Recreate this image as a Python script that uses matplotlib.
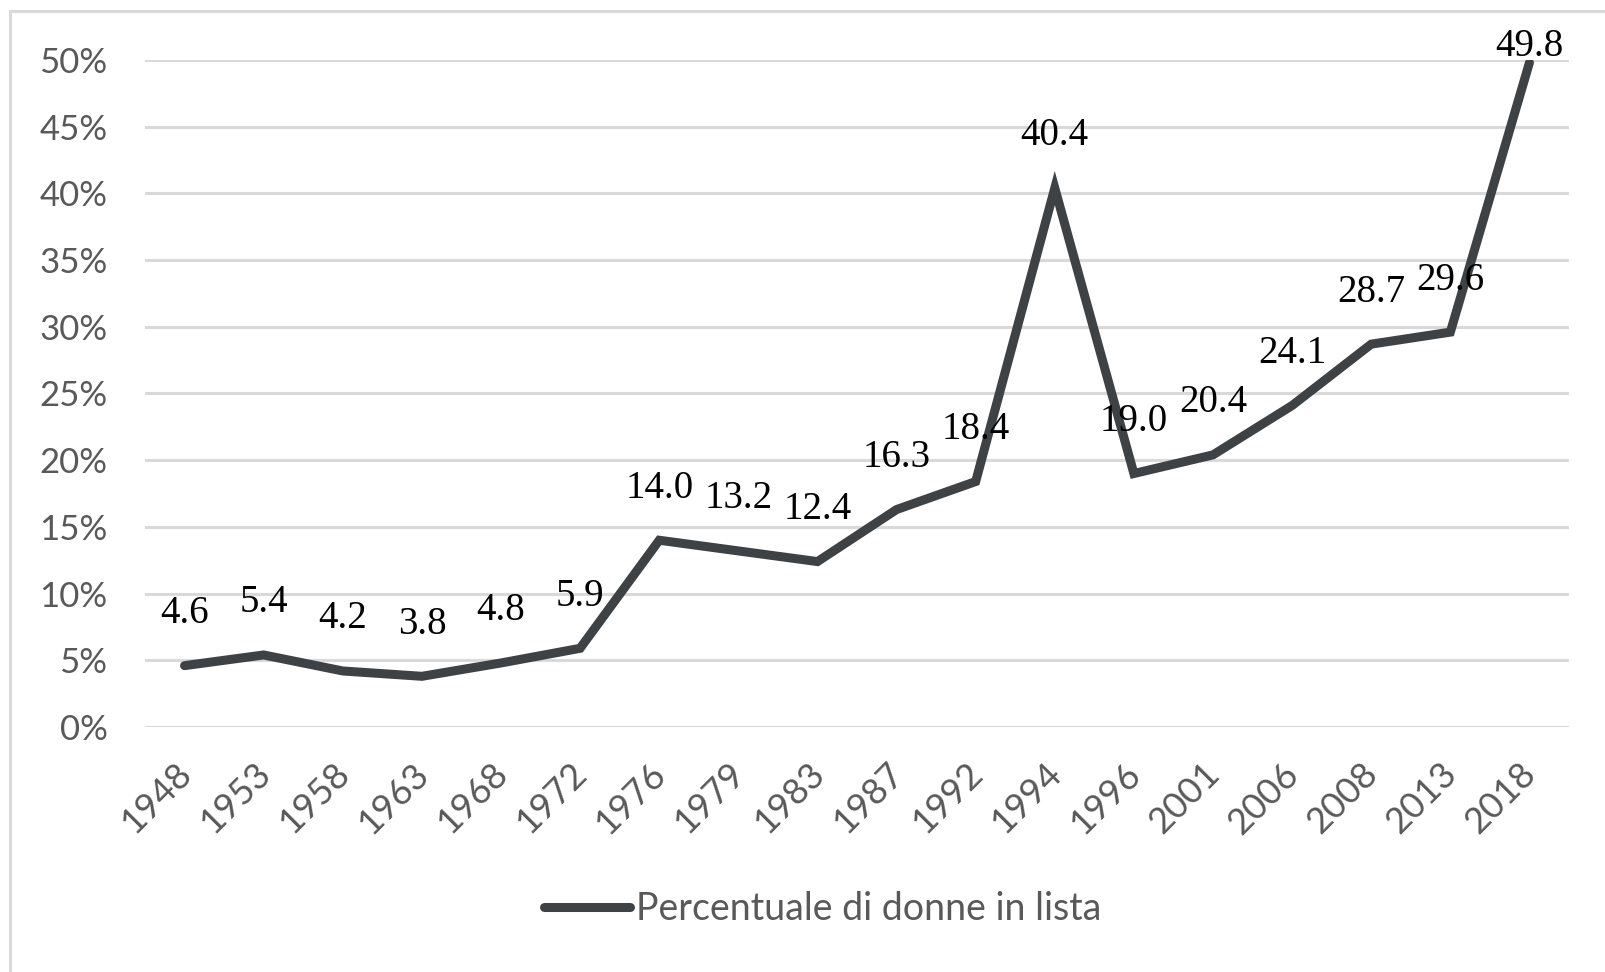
import numpy as np
import matplotlib
matplotlib.use("Agg")
import matplotlib.pyplot as plt
from matplotlib.patches import Rectangle
from matplotlib.ticker import FuncFormatter
from matplotlib.transforms import ScaledTranslation

# Percentuale di donne in lista, per anno elettorale
years = ["1948", "1953", "1958", "1963", "1968", "1972", "1976", "1979", "1983",
         "1987", "1992", "1994", "1996", "2001", "2006", "2008", "2013", "2018"]
women_pct = [4.6, 5.4, 4.2, 3.8, 4.8, 5.9, 14.0, 13.2, 12.4,
             16.3, 18.4, 40.4, 19.0, 20.4, 24.1, 28.7, 29.6, 49.8]
yticks = [0, 5, 10, 15, 20, 25, 30, 35, 40, 45, 50]
series_name = "Percentuale di donne in lista"

line_col = "#3f4245"
grid_col = "#d9d9d9"
text_col = "#595959"
sans = "Lato"
serif = "Liberation Serif"

fig = plt.figure(figsize=(16.06, 9.72), dpi=100)
ax = fig.add_axes([145 / 1606, 1 - 727 / 972, (1569 - 145) / 1606, (727 - 60) / 972])

x = np.arange(len(years))
ax.plot(x, women_pct, color=line_col, lw=6.5, solid_capstyle="round",
        solid_joinstyle="miter", label=series_name, zorder=3)

# etichette dei valori sopra i punti
for i, v in enumerate(women_pct):
    off = 37.5 if i < len(years) - 1 else 12
    ax.annotate(f"{v:.1f}", (x[i], v), xytext=(0, off), textcoords="offset points",
                ha="center", va="center", fontsize=28, family=serif, color="black",
                zorder=4)

ax.set_xlim(-0.5, len(years) - 0.5)
ax.set_ylim(0, 50)
ax.set_yticks(yticks)
ax.yaxis.set_major_formatter(FuncFormatter(lambda v, p: f"{v:.0f}%"))
ax.set_xticks(x)
ax.set_xticklabels(years)
ax.grid(axis="y", color=grid_col, lw=2.2)
ax.set_axisbelow(True)
for s in ax.spines.values():
    s.set_visible(False)
ax.tick_params(axis="y", length=0, pad=27, labelsize=25, labelcolor=text_col)
ax.tick_params(axis="x", length=0, pad=30, labelsize=26, labelcolor=text_col)
for lbl in ax.get_yticklabels():
    lbl.set_family(sans)
shift = ScaledTranslation(0.01, 0, fig.dpi_scale_trans)
for lbl in ax.get_xticklabels():
    lbl.set_family(sans)
    lbl.set_rotation(45)
    lbl.set_rotation_mode("anchor")
    lbl.set_ha("right")
    lbl.set_va("center")
    lbl.set_transform(lbl.get_transform() + shift)

leg = fig.legend(loc="center", bbox_to_anchor=(0.512, 0.065), frameon=False,
                 handlelength=2.3, handletextpad=0.15,
                 prop={"family": sans, "size": 27})
for t in leg.get_texts():
    t.set_color(text_col)

# bordo del grafico (solo lati sinistro e superiore visibili)
fig.patches.append(Rectangle((10 / 1606, -0.1), 1.2, (972 - 11) / 972 + 0.1,
                             transform=fig.transFigure, fill=False,
                             edgecolor=grid_col, lw=2.2))

fig.savefig("out.png", dpi=100)
